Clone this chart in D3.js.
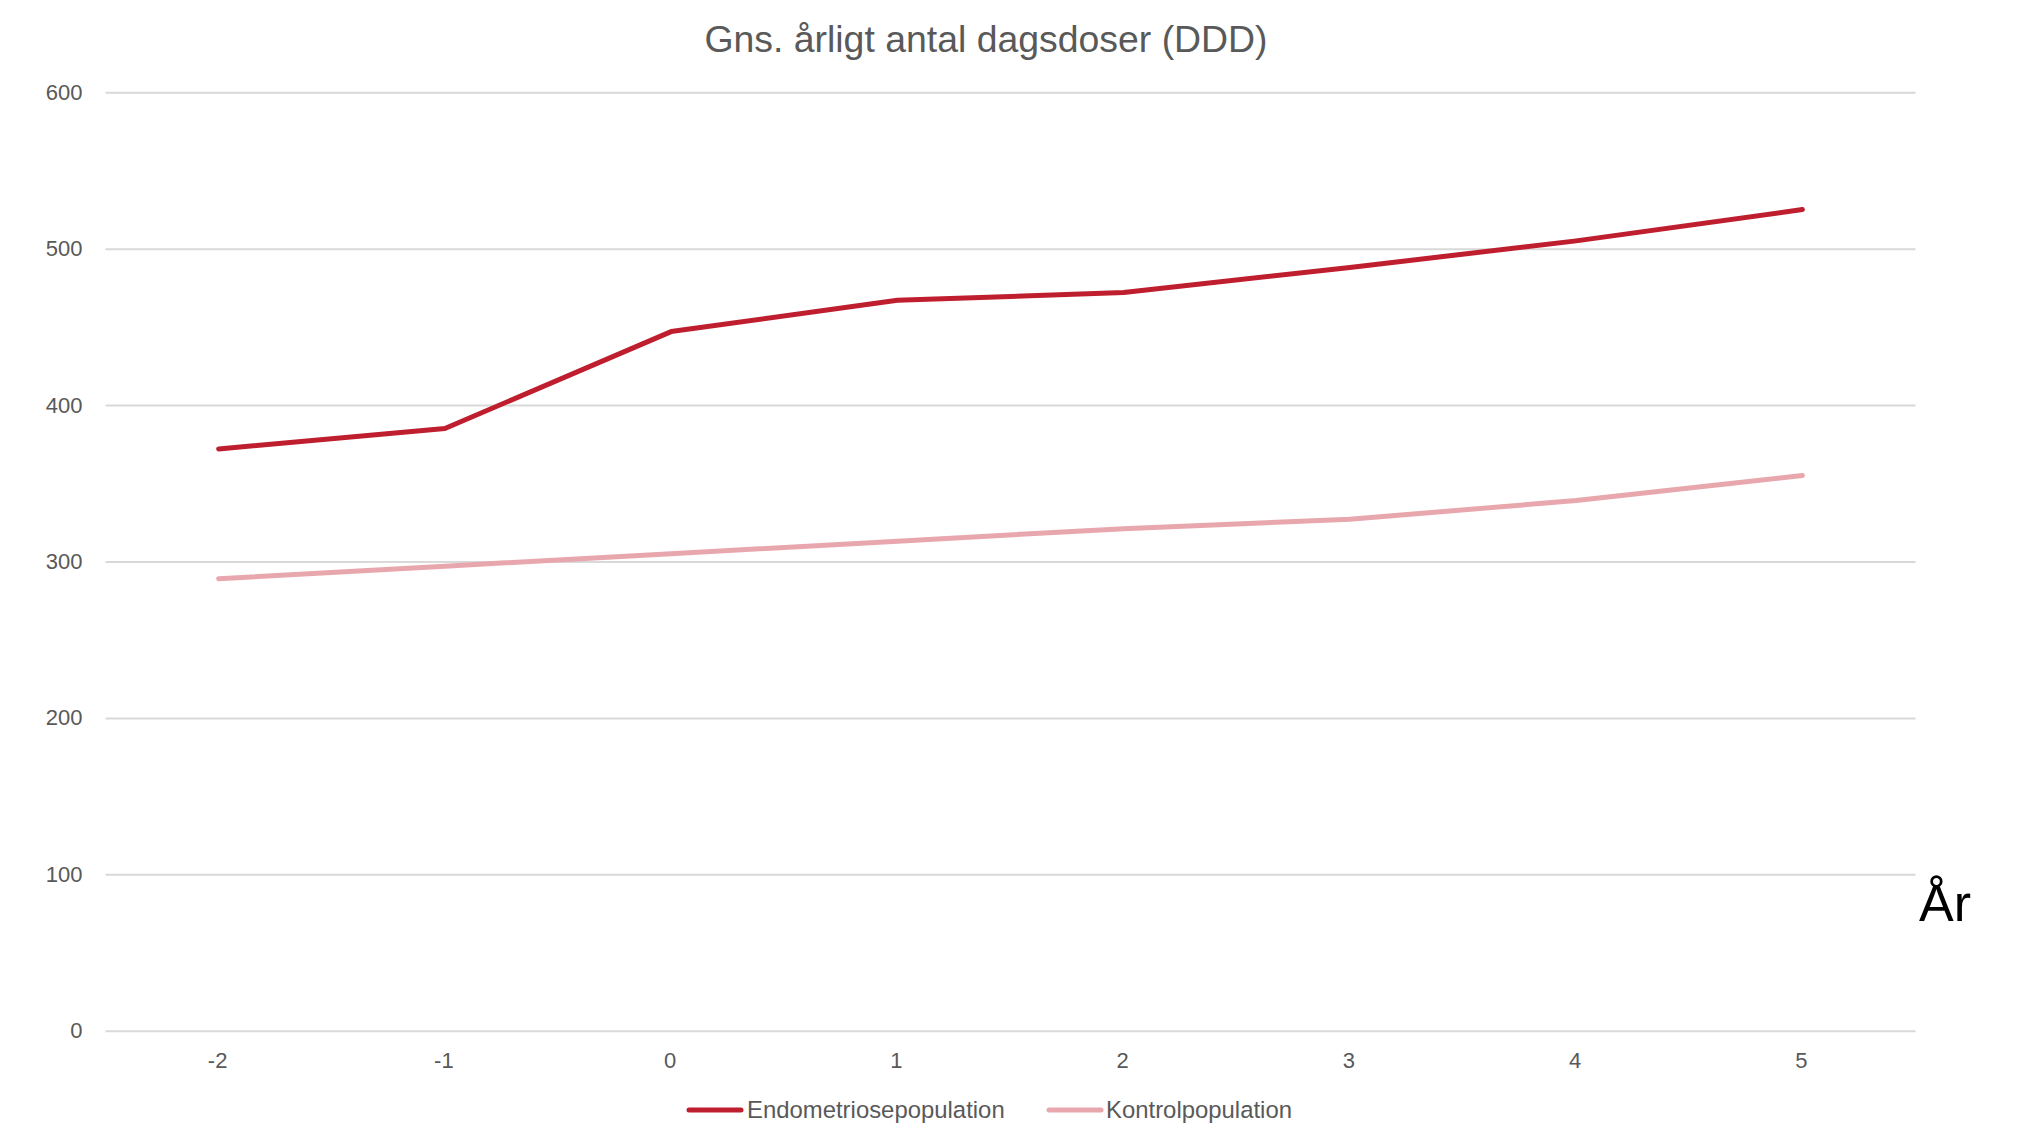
<!DOCTYPE html>
<html>
<head>
<meta charset="utf-8">
<script src="https://cdn.jsdelivr.net/npm/d3@7"></script>
<style>
  html, body { margin: 0; padding: 0; background: #ffffff; }
  svg { display: block; }
  text { font-family: "Liberation Sans", Arial, sans-serif; }
</style>
</head>
<body>
<script>
// Years relative to diagnosis
const years = ["-2", "-1", "0", "1", "2", "3", "4", "5"];
// Average annual defined daily doses (DDD)
const endometriose = [372, 385, 447, 467, 472, 488, 505, 525];
const kontrol = [289, 297, 305, 313, 321, 327, 339, 355];
const seriesNames = ["Endometriosepopulation", "Kontrolpopulation"];
const seriesColors = ["#BE1E2D", "#E8A7AD"];
const yTicks = [0, 100, 200, 300, 400, 500, 600];

const W = 2018, H = 1125;
const plot = { left: 105.5, right: 1915.5, top: 92.3, bottom: 1030.7 };

const svg = d3.select("body").append("svg")
  .attr("width", W).attr("height", H);

const x = d3.scaleBand().domain(years).range([plot.left, plot.right]);
const y = d3.scaleLinear().domain([0, 600]).range([plot.bottom, plot.top]);

// Horizontal gridlines with value labels
const yAxis = d3.axisLeft(y).tickValues(yTicks)
  .tickSize(-(plot.right - plot.left)).tickPadding(23);
const gy = svg.append("g").attr("transform", `translate(${plot.left},0)`).call(yAxis);
gy.select(".domain").remove();
gy.selectAll(".tick line").attr("stroke", "#D9D9D9").attr("stroke-width", 2);
gy.selectAll(".tick text").attr("fill", "#595959").attr("font-size", 22)
  .attr("font-family", "Liberation Sans, Arial, sans-serif");

// Category axis labels
const xAxis = d3.axisBottom(x).tickSize(0).tickPadding(22);
const gx = svg.append("g").attr("transform", `translate(-1,${plot.bottom})`).call(xAxis);
gx.select(".domain").remove();
gx.selectAll(".tick text").attr("fill", "#595959").attr("font-size", 22)
  .attr("font-family", "Liberation Sans, Arial, sans-serif");

// Series lines
const line = d3.line()
  .x((d, i) => x(years[i]) + x.bandwidth() / 2)
  .y(d => y(d));

[kontrol, endometriose].forEach((vals, k) => {
  const idx = k === 0 ? 1 : 0;
  svg.append("path")
    .datum(vals)
    .attr("d", line)
    .attr("fill", "none")
    .attr("stroke", seriesColors[idx])
    .attr("stroke-width", 5)
    .attr("stroke-linecap", "round")
    .attr("stroke-linejoin", "round");
});

// Title
svg.append("text")
  .attr("x", 986).attr("y", 51.5)
  .attr("text-anchor", "middle")
  .attr("fill", "#595959")
  .attr("font-size", 37.4)
  .text("Gns. årligt antal dagsdoser (DDD)");

// Axis unit label
svg.append("text")
  .attr("x", 1919).attr("y", 921)
  .attr("fill", "#000000")
  .attr("font-size", 52)
  .text("År");

// Legend
const legendItems = [
  { x: 687, textX: 747 },
  { x: 1047, textX: 1106 }
];
const legendBaseline = 1118;
legendItems.forEach((it, i) => {
  svg.append("line")
    .attr("x1", it.x + 2).attr("x2", it.x + 54)
    .attr("y1", legendBaseline - 8).attr("y2", legendBaseline - 8)
    .attr("stroke", seriesColors[i])
    .attr("stroke-width", 5)
    .attr("stroke-linecap", "round");
  svg.append("text")
    .attr("x", it.textX).attr("y", legendBaseline)
    .attr("fill", "#595959")
    .attr("font-size", 23.9)
    .text(seriesNames[i]);
});
</script>
</body>
</html>
